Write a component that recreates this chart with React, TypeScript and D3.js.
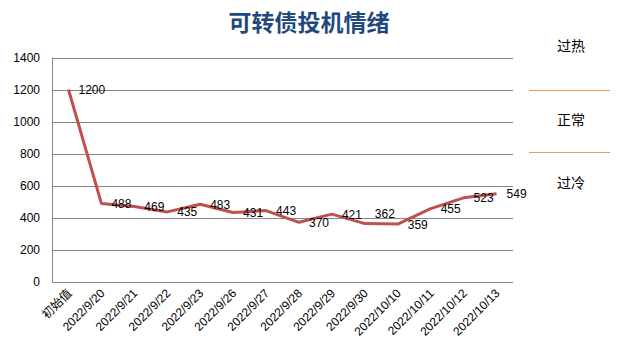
import React from "react";
import * as d3 from "d3";

const categories = [
  "初始值", "2022/9/20", "2022/9/21", "2022/9/22", "2022/9/23", "2022/9/26", "2022/9/27",
  "2022/9/28", "2022/9/29", "2022/9/30", "2022/10/10", "2022/10/11", "2022/10/12", "2022/10/13",
];
const values = [1200, 488, 469, 435, 483, 431, 443, 370, 421, 362, 359, 455, 523, 549];
const yTicks = [0, 200, 400, 600, 800, 1000, 1200, 1400];
const zoneLabels = ["过热", "正常", "过冷"];
const title = "可转债投机情绪";

const W = 636, H = 352;
const left = 52, right = 513, top = 57.5, bottom = 281.5;

export default function App() {
  const x = d3.scaleBand<string>().domain(categories).range([left, right]);
  const y = d3.scaleLinear().domain([0, 1400]).range([bottom, top]);
  const cx = (c: string) => (x(c) as number) + x.bandwidth() / 2;
  const line = d3.line<number>().x((_, i) => cx(categories[i])).y((d) => y(d));
  const font = "'Liberation Sans', Arial, sans-serif";
  const cjk = "'Noto Sans CJK SC', sans-serif";
  // Excel nudges a label upward when the next point sits just below it (collision avoidance)
  const labelDy = (i: number) =>
    i < values.length - 1 && values[i + 1] <= values[i] && values[i] - values[i + 1] < 5 ? -10 : 0;
  return (
    <svg width={W} height={H} style={{ position: "absolute", left: 0, top: 0, background: "#fff" }}>
      <rect x={0} y={0} width={W} height={H} fill="#fff" />
      <text x={309} y={31} textAnchor="middle" fontFamily={cjk} fontWeight="bold" fontSize={23} fill="#1F497D">{title}</text>
      {yTicks.map((t) => (
        <g key={t}>
          <line x1={left} x2={right} y1={Math.round(y(t)) + 0.5} y2={Math.round(y(t)) + 0.5} stroke="#868686" strokeWidth={1} />
          <text x={40} y={y(t) + 4} textAnchor="end" fontFamily={font} fontSize={12} fill="#000">{t}</text>
        </g>
      ))}
      <line x1={left + 0.5} x2={left + 0.5} y1={top} y2={bottom + 0.5} stroke="#868686" strokeWidth={1} />
      {categories.map((c, i) => (
        <text key={c} transform={`translate(${cx(c) + 4},${294}) rotate(-45)`} textAnchor="end"
          fontFamily={i === 0 ? cjk : font} fontSize={12} fill="#000">{c}</text>
      ))}
      <path d={line(values) || ""} fill="none" stroke="#C0504D" strokeWidth={3} strokeLinejoin="round" />
      {values.map((v, i) => (
        <text key={i} x={cx(categories[i]) + 10} y={y(v) + 4.5 + labelDy(i)} fontFamily={font} fontSize={12} fill="#000">{v}</text>
      ))}
      <line x1={529} x2={610} y1={90.5} y2={90.5} stroke="#F79646" strokeWidth={1} />
      <line x1={529} x2={610} y1={152.5} y2={152.5} stroke="#F79646" strokeWidth={1} />
      {zoneLabels.map((z, i) => (
        <text key={z} x={571} y={[51, 125, 188][i]} textAnchor="middle" fontFamily={cjk} fontSize={14} fill="#000">{z}</text>
      ))}
    </svg>
  );
}
